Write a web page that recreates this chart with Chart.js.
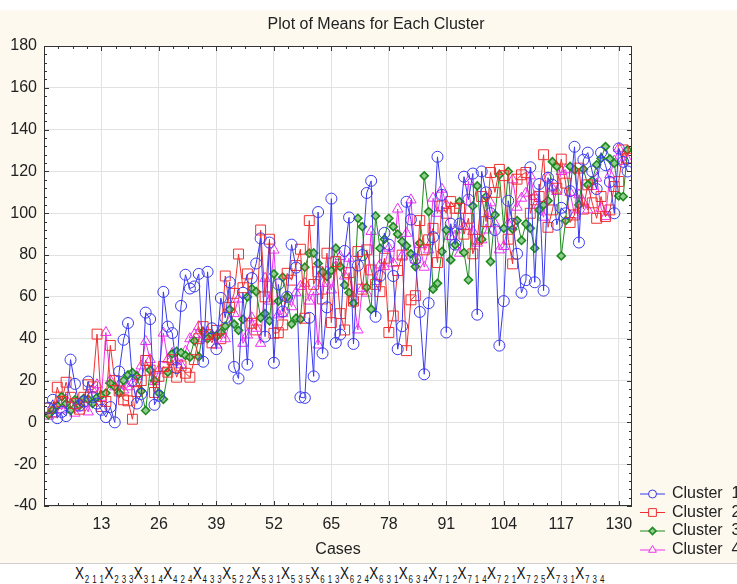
<!DOCTYPE html>
<html>
<head>
<meta charset="utf-8">
<script src="https://cdn.jsdelivr.net/npm/chart.js@4"></script>
<style>
  body { margin: 0; background: #fff; }
  #wrap { position: relative; width: 737px; height: 584px; overflow: hidden; }
  #chartBox { position: absolute; left: 0; top: 0; width: 737px; height: 563px; }
  #vars {
    position: absolute; left: 0; top: 563px; width: 737px; height: 21px;
    border-top: 1px solid #cfcfcf; background: #fff;
    font-family: "Liberation Sans Narrow", "Liberation Sans", Arial, sans-serif;
    font-size: 17px; color: #111; white-space: nowrap;
  }
  #vars .inner { position: absolute; left: 75px; top: 0px; transform-origin: 0 0; display: inline-block; }
  #vars sub { font-size: 10px; letter-spacing: 0.5px; margin-left: 1px; }
</style>
</head>
<body>
<div id="wrap">
  <div id="chartBox"><canvas id="clusterChart" width="737" height="563"></canvas></div>
  <div id="vars"><span class="inner" id="varText"></span></div>
</div>
<script>
const chartTitle = "Plot of Means for Each Cluster";
const xAxisTitle = "Cases";
const seriesNames = ["Cluster  1", "Cluster  2", "Cluster  3", "Cluster  4"];
const xTicks = [13, 26, 39, 52, 65, 78, 91, 104, 117, 130];
const yTicks = [-40, -20, 0, 20, 40, 60, 80, 100, 120, 140, 160, 180];
const varSubs = ["2 1 1", "2 3 3", "3 1 4", "4 2 4", "4 3 3", "5 2 2", "5 3 1", "5 3 5", "6 1 3",
  "6 2 4", "6 3 1", "6 3 4", "7 1 2", "7 1 4", "7 2 1", "7 2 5", "7 3 1", "7 3 4"];

// cluster means per case (case 1..132)
const cluster1 = [
  7, 10.8, 2, 5, 3, 30, 18.4, 8, 10, 19.5, 12, 9, 6, 2.5, 7.3, 0, 24.3, 39.5, 47.5, 20,
  9, 13.6, 52.5, 49.4, 8.4, 12.7, 62.4, 45.8, 42.7, 26, 55.7, 70.6, 64, 65, 71, 29, 72, 45, 35, 59.5,
  50, 67, 26.5, 21, 62, 27.6, 69, 76, 88, 41, 86, 28.5, 66, 53, 60, 85, 74, 12, 11.7, 50,
  22, 100.6, 33, 55, 107, 38, 42, 82, 98, 37.5, 75, 80, 109.7, 115.5, 50.5, 70, 90.6, 85, 70, 35,
  46, 105.5, 97, 78, 52.8, 23, 57, 88.6, 127, 108.8, 43, 95, 85, 95, 117.5, 106.5, 119, 51.5, 120, 110,
  100, 92, 36.7, 58, 106, 95, 80.6, 62, 68, 122, 67, 114, 63, 117, 113.6, 94.5, 102.6, 100, 110.6, 131.8,
  86, 125.6, 129, 120, 111.6, 129, 123, 115, 100, 131, 124.6, 120
];
const cluster2 = [
  6.8, 5, 16.8, 10, 19.2, 12, 9, 6.3, 12, 18, 17, 42.2, 7.6, 10, 36.8, 20, 15, 10.8, 10.3, 1.5,
  14.7, 20, 29.6, 25, 14.3, 22, 26.7, 24, 30, 21.6, 27, 23.5, 21.6, 30, 40, 45.8, 42, 38, 44, 40,
  70, 55, 61.7, 80.5, 64.4, 71, 47.4, 44.2, 92, 60, 87.6, 42.6, 42.9, 46.6, 71.3, 68, 75, 82.8, 49.8, 96.5,
  66, 72, 59, 80.9, 47.7, 76.9, 52, 44.2, 71.6, 58, 81.7, 63.7, 82.5, 72.9, 66, 62.5, 78.5, 43, 50.9, 72.6,
  80, 34.3, 58.6, 60.6, 96.5, 82.5, 87.3, 92.8, 76.4, 103.5, 100, 105.6, 102.4, 102.4, 90, 97.6, 80.6, 87.6, 108, 96,
  119.5, 110, 121, 118, 87.6, 75.8, 116.3, 118.4, 119.5, 100, 106.4, 108, 128, 93.3, 101.6, 112, 125.9, 114.4, 95.6, 99.2,
  121.6, 102, 113.6, 105, 97.6, 108, 98.4, 101.6, 112.8, 115.2, 130.3, 126.3
];
const cluster3 = [
  3.6, 6, 8, 12.3, 9, 5.7, 10.8, 8, 11.5, 11, 9, 12, 13, 14, 18.7, 17, 14, 20, 22.7, 23.8,
  22, 15, 5.7, 25, 20, 14, 11, 24, 32.8, 34, 33.4, 32, 31.2, 39, 31.4, 43.4, 40, 42, 41, 43,
  46, 54, 47, 44, 49.3, 60, 64, 62.5, 50, 52, 48.6, 71, 58, 69.4, 60, 47, 49.8, 49.3, 74.2, 80.9,
  81, 76, 72, 69.7, 72.6, 83.3, 74.5, 65.7, 62, 57, 97.6, 93.6, 64.6, 54.1, 98.7, 83.3, 87.6, 97.6, 93.6, 90,
  86.5, 84.4, 80.6, 74.5, 85.7, 117.9, 100.8, 63.7, 66.5, 81.7, 92, 77.7, 84.9, 105.6, 81.2, 68.1, 103.5, 113.1, 87.6, 108,
  76.9, 99.2, 118.4, 92.8, 120, 92.4, 96.5, 87, 95, 92.8, 83.3, 101.6, 104, 106, 124.7, 122.4, 79.6, 96.5, 122.4, 120.8,
  104, 121.1, 113.6, 115.6, 123.2, 126.3, 131.9, 126, 123.9, 108.3, 108, 130.3
];
const cluster4 = [
  3, 4, 8, 6, 10.8, 8, 4.4, 7, 9, 5, 15.5, 18, 12, 43, 20, 17, 18, 15.5, 17, 18.7,
  22, 27, 38.7, 30, 19.5, 25, 42.7, 30, 33, 29, 27.5, 34, 40, 42, 45.8, 40, 43, 41, 37, 44,
  40, 48, 52, 59, 37.8, 41.8, 50, 45, 37.8, 68.9, 58, 82.4, 51.4, 52, 60, 55.3, 62, 65, 66.5, 58,
  62.5, 37, 66.5, 72, 63.3, 74.5, 79.3, 70, 78.5, 60, 44.2, 64.1, 61.8, 91.3, 67.3, 75.3, 74.5, 83.3, 76.1, 102,
  79.6, 90.4, 106.4, 77.7, 85, 74.2, 82.5, 107.2, 100, 111.5, 104, 88.9, 92, 80.9, 93.6, 115.2, 91.3, 85.7, 87.3, 92,
  105, 95, 82.5, 84.1, 94.9, 116, 102.9, 107.2, 109.6, 117.9, 108, 104, 98.1, 116.8, 112, 110.4, 120, 120.8, 110, 99.2,
  108.8, 105, 101.6, 112.8, 116.8, 102.4, 98.4, 118.4, 125, 131.1, 124.8, 125.5
];

const colors = ["#3a3af0", "#f03030", "#1f8a1f", "#f030f0"];
const styles = ["circle", "rect", "rectRot", "triangle"];
const fills = ["rgba(0,0,0,0)", "rgba(0,0,0,0)", "#8fcf8f", "rgba(0,0,0,0)"];
const radii = [5.5, 7, 4, 6];
const legendRadii = [4, 5.5, 3.5, 4.5];
const pointBorders = [1, 1, 1.6, 1];

const font = "Liberation Sans, Arial, sans-serif";

// build the little variable list below the chart, squeezed to fit
const varText = document.getElementById("varText");
varText.innerHTML = varSubs.map(s => `X<sub>${s}</sub>`).join("");
varText.style.transform = `scaleX(${530 / varText.offsetWidth})`;

function toPoints(arr) {
  return arr.map((v, i) => ({ x: i + 1, y: v }));
}

const datasets = [cluster1, cluster2, cluster3, cluster4].map((arr, i) => ({
  label: seriesNames[i],
  data: toPoints(arr),
  borderColor: colors[i],
  backgroundColor: fills[i],
  pointStyle: styles[i],
  pointRadius: radii[i],
  pointBorderWidth: pointBorders[i],
  pointBorderColor: colors[i],
  pointBackgroundColor: fills[i],
  borderWidth: 1,
  tension: 0
}));

// frame, minor ticks, title, axis title, legend
const decorations = {
  id: "decorations",
  beforeDraw(chart) {
    const c = chart.ctx;
    c.save();
    c.fillStyle = "#fdf9ef";
    c.fillRect(0, 10, chart.width, chart.height - 10);
    const a = chart.chartArea;
    c.fillStyle = "#ffffff";
    c.fillRect(a.left, a.top, a.right - a.left, a.bottom - a.top);
    c.restore();
  },
  afterDraw(chart) {
    const c = chart.ctx;
    const a = chart.chartArea;
    const xs = chart.scales.x, ys = chart.scales.y;
    c.save();
    c.strokeStyle = "#333";
    c.lineWidth = 1;
    c.strokeRect(a.left + 0.5, a.top + 0.5, a.right - a.left - 1, a.bottom - a.top - 1);

    c.beginPath();
    // y minor/major ticks on left and right
    for (let v = -40; v <= 180; v += 4) {
      const y = Math.round(ys.getPixelForValue(v)) + 0.5;
      const len = v % 20 === 0 ? 5 : 3;
      c.moveTo(a.left, y); c.lineTo(a.left + len, y);
      c.moveTo(a.right, y); c.lineTo(a.right - len, y);
    }
    // x minor/major ticks on top and bottom
    for (let v = 0; v <= 133; v += 3.25) {
      const x = Math.round(xs.getPixelForValue(v)) + 0.5;
      const len = (v % 13 === 0) ? 5 : 3;
      c.moveTo(x, a.top); c.lineTo(x, a.top + len);
      c.moveTo(x, a.bottom); c.lineTo(x, a.bottom - len);
    }
    c.stroke();

    c.fillStyle = "#222";
    c.font = "16px " + font;
    c.textAlign = "center";
    c.textBaseline = "middle";
    c.fillText(chartTitle, 376, 25);
    c.fillText(xAxisTitle, 338, 550);

    // legend
    const rows = [494, 512.5, 531, 550];
    chart.data.datasets.forEach((ds, i) => {
      const y = rows[i];
      c.strokeStyle = colors[i];
      c.lineWidth = 1;
      c.beginPath();
      c.moveTo(640, y); c.lineTo(665, y);
      c.stroke();
      c.fillStyle = i === 2 ? fills[i] : "#fdf9ef";
      c.strokeStyle = colors[i];
      c.lineWidth = pointBorders[i];
      Chart.helpers.drawPoint(c, {
        pointStyle: styles[i], radius: legendRadii[i], borderWidth: pointBorders[i]
      }, 652.5, y);
      c.fillStyle = "#222";
      c.textAlign = "left";
      c.fillText(seriesNames[i], 672, y);
    });
    c.restore();
  }
};

new Chart(document.getElementById("clusterChart"), {
  type: "line",
  data: { datasets },
  options: {
    responsive: false,
    animation: false,
    layout: { padding: { left: 0, right: 105, top: 46, bottom: 0 } },
    plugins: {
      legend: { display: false },
      title: { display: false },
      tooltip: { enabled: false }
    },
    scales: {
      x: {
        type: "linear",
        min: 0,
        max: 133,
        afterBuildTicks: s => { s.ticks = xTicks.map(v => ({ value: v })); },
        afterFit: s => { s.height = 57; },
        grid: { color: "#e2e2e2", drawTicks: false },
        border: { display: false },
        ticks: { color: "#222", font: { family: font, size: 16 }, padding: 9, maxRotation: 0 }
      },
      y: {
        min: -40,
        max: 180,
        afterBuildTicks: s => { s.ticks = yTicks.map(v => ({ value: v })); },
        afterFit: s => { s.width = 44; },
        grid: { color: "#e2e2e2", drawTicks: false },
        border: { display: false },
        ticks: { color: "#222", font: { family: font, size: 16 }, padding: 7 }
      }
    }
  },
  plugins: [decorations]
});
</script>
</body>
</html>
